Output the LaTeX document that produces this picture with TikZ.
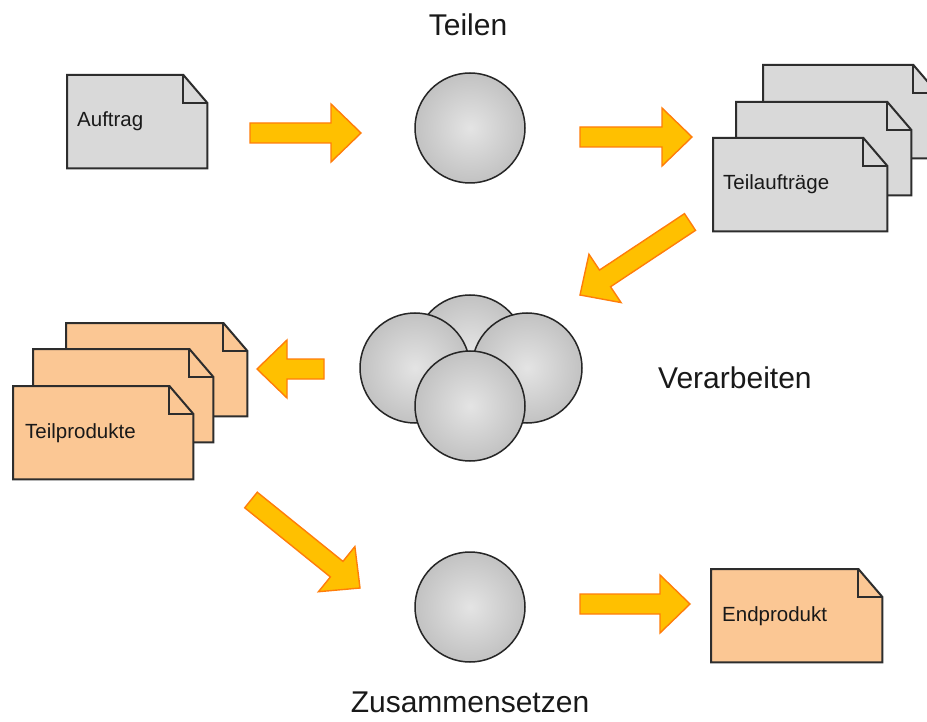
\documentclass[tikz,border=0pt]{standalone}
\usepackage{fontspec}
\setmainfont{Liberation Sans}
\usetikzlibrary{calc}

\definecolor{sheetgray}{RGB}{217,217,217}
\definecolor{sheetpeach}{RGB}{251,199,148}
\definecolor{sheetline}{RGB}{45,45,45}
\definecolor{arrowfill}{RGB}{255,192,0}
\definecolor{arrowline}{RGB}{255,125,10}
\definecolor{ballin}{RGB}{228,228,228}
\definecolor{ballout}{RGB}{160,160,160}

% radial shading that reaches its outer colour exactly at the rim of the ball
\pgfdeclareradialshading{ballshade}{\pgfpoint{0bp}{0bp}}{color(0bp)=(ballin); color(50bp)=(ballout); color(75bp)=(ballout)}

\tikzset{
  sheetbox/.style={rectangle, inner sep=0pt, minimum height=93pt, anchor=north west},
  sheetframe/.style={draw=sheetline, line width=2pt, line join=miter},
  sheetlabel/.style={anchor=base west, inner sep=0pt, font=\fontsize{20.5}{24}\selectfont, text=black!90},
  ball/.style={circle, minimum size=110pt, inner sep=0pt, draw=black!85, line width=1.5pt, shading=ballshade},
  blockarrow/.style={fill=arrowfill, draw=arrowline, line width=1.4pt, line join=miter},
  stagelabel/.style={inner sep=0pt, font=\fontsize{30}{36}\selectfont, text=black!90},
}

% a sheet of paper with a folded top right corner: name, top left corner, width, fill
\newcommand\sheet[4]{%
  \node[sheetbox, minimum width=#3pt] (#1) at (#2) {};
  \filldraw[sheetframe, fill=#4] (#1.north west) -- ($(#1.north east)+(-24,0)$)
    -- ($(#1.north east)+(0,28)$) -- (#1.south east) -- (#1.south west) -- cycle;
  \draw[sheetframe] ($(#1.north east)+(-24,0)$) -- ($(#1.north east)+(-24,28)$)
    -- ($(#1.north east)+(0,28)$);
}

% a broad block arrow from one named point to another
\newcommand\flowarrow[2]{%
  \path let \p1=(#1), \p2=(#2),
        \n1={atan2(\y2-\y1,\x2-\x1)}, \n2={veclen(\x2-\x1,\y2-\y1)} in
    \pgfextra{\xdef\arrang{\n1}\xdef\arrlen{\n2}\xdef\arrx{\x1}\xdef\arry{\y1}};
  \filldraw[blockarrow, shift={(\arrx,\arry)}, rotate=\arrang]
    (0pt,-10pt) -- ({\arrlen-30pt},-10pt) -- ({\arrlen-30pt},-29pt)
    -- ({\arrlen+0pt},0pt) -- ({\arrlen-30pt},29pt) -- ({\arrlen-30pt},10pt)
    -- (0pt,10pt) -- cycle;
}

\begin{document}
\begin{tikzpicture}[x=1pt, y=-1pt]
  \useasboundingbox (0,0) rectangle (927,722);
  \clip (0,0) rectangle (927,722);
  \fill[white] (0,0) rectangle (927,722);

  % stage 1: splitting the order
  \sheet{auftrag}{67,75}{140}{sheetgray}
  \node[sheetlabel] (auftrag-label) at ($(auftrag.north west)+(10,52)$) {Auftrag};

  \node[ball] (teilen) at (470,128) {};
  \node[stagelabel, anchor=base] (teilen-label) at (468,36) {Teilen};

  \sheet{teil-back}{763,65}{174}{sheetgray}
  \sheet{teil-mid}{736,102}{175}{sheetgray}
  \sheet{teil-front}{713,138}{174}{sheetgray}
  \node[sheetlabel] (teil-label) at ($(teil-front.north west)+(10,52)$) {Teilaufträge};

  % stage 2: processing in parallel
  \node[ball] (work-top) at (470,350) {};
  \node[ball] (work-left) at (415,368) {};
  \node[ball] (work-right) at (527,368) {};
  \node[ball] (work-front) at (470,406) {};
  \node[stagelabel, anchor=base west] (work-label) at (658,388) {Verarbeiten};

  \sheet{prod-back}{66,323}{181}{sheetpeach}
  \sheet{prod-mid}{33,349}{180}{sheetpeach}
  \sheet{prod-front}{13,386}{180}{sheetpeach}
  \node[sheetlabel] (prod-label) at ($(prod-front.north west)+(12,52)$) {Teilprodukte};

  % stage 3: assembling the result
  \node[ball] (join) at (470,607) {};
  \node[stagelabel, anchor=base] (join-label) at (470,712) {Zusammensetzen};

  \sheet{end}{711,569}{171}{sheetpeach}
  \node[sheetlabel] (end-label) at ($(end.north west)+(11,52)$) {Endprodukt};

  % arrow end points
  \coordinate (a1from) at (250,133);  \coordinate (a1to) at (361,133);
  \coordinate (a2from) at (580,137);  \coordinate (a2to) at (692,137);
  \coordinate (a3from) at (690,222);  \coordinate (a3to) at (580,295);
  \coordinate (a4from) at (324,369);  \coordinate (a4to) at (257,369);
  \coordinate (a5from) at (251,500);  \coordinate (a5to) at (360,588);
  \coordinate (a6from) at (580,604);  \coordinate (a6to) at (690,604);

  \flowarrow{a1from}{a1to}
  \flowarrow{a2from}{a2to}
  \flowarrow{a3from}{a3to}
  \flowarrow{a4from}{a4to}
  \flowarrow{a5from}{a5to}
  \flowarrow{a6from}{a6to}
\end{tikzpicture}
\end{document}
